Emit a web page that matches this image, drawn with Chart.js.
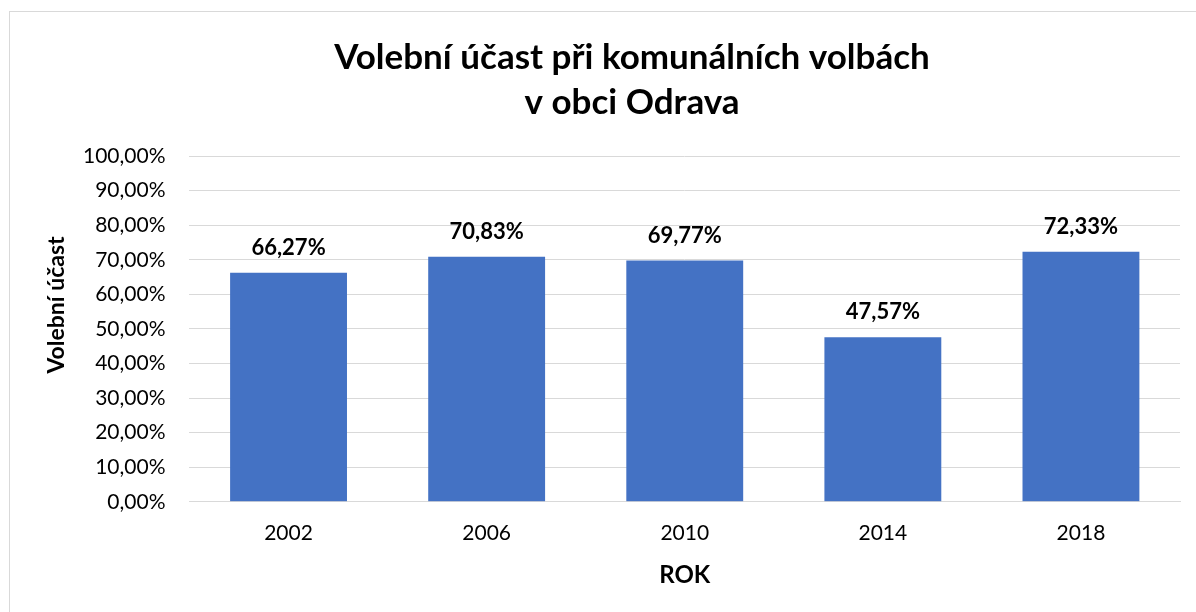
<!DOCTYPE html>
<html><head><meta charset="utf-8">
<script src="https://cdn.jsdelivr.net/npm/chart.js@4/dist/chart.umd.min.js"></script>
<style>
html,body{margin:0;padding:0;background:#fff;overflow:hidden;width:1196px;height:612px;}
#frame{position:absolute;left:9px;top:11px;width:1200px;height:620px;border:1px solid #d9d9d9;box-sizing:border-box;}
#wrap{position:absolute;left:0;top:0;width:1196px;height:612px;}
</style></head><body>
<div id="frame"></div>
<div id="wrap"><canvas id="c" width="1196" height="612"></canvas></div>
<script>
const categories = ['2002','2006','2010','2014','2018'];
const turnout = [66.27, 70.83, 69.77, 47.57, 72.33];
const yTicks = [0,10,20,30,40,50,60,70,80,90,100];
const titleLines = ['Volební účast při komunálních volbách','v obci Odrava'];
const yTitle = 'Volební účast';
const xTitle = 'ROK';

const FONT = 'Lato, "Open Sans", sans-serif';
const fmt = v => v.toFixed(2).replace('.', ',') + '%';

const labelPlugin = {
  id: 'barLabels',
  afterDatasetsDraw(chart) {
    const ctx = chart.ctx;
    const meta = chart.getDatasetMeta(0);
    ctx.save();
    ctx.font = 'bold 22px ' + FONT;
    ctx.fillStyle = '#000';
    ctx.textAlign = 'center';
    ctx.textBaseline = 'middle';
    meta.data.forEach((bar, i) => {
      ctx.fillText(fmt(turnout[i]), bar.x, bar.y - 25);
    });
    ctx.restore();
  }
};

const titlePlugin = {
  id: 'titles',
  afterDraw(chart) {
    const ctx = chart.ctx;
    const a = chart.chartArea;
    ctx.save();
    ctx.fillStyle = '#000';
    ctx.textAlign = 'center';
    ctx.textBaseline = 'middle';
    ctx.font = 'bold 35px ' + FONT;
    ctx.fillText(titleLines[0], 632, 58);
    ctx.fillText(titleLines[1], 632, 103);
    ctx.font = 'bold 24px ' + FONT;
    ctx.fillText(xTitle, (a.left + a.right) / 2, 575);
    ctx.translate(57, 305);
    ctx.rotate(-Math.PI / 2);
    ctx.font = 'bold 23px ' + FONT;
    ctx.fillText(yTitle, 0, 0);
    ctx.restore();
  }
};

new Chart(document.getElementById('c'), {
  type: 'bar',
  data: {
    labels: categories,
    datasets: [{
      data: turnout,
      backgroundColor: '#4472C4',
      borderWidth: 0,
      barPercentage: 0.59,
      categoryPercentage: 1.0
    }]
  },
  options: {
    responsive: false,
    animation: false,
    devicePixelRatio: 1,
    layout: { padding: { left: 59, right: 16, top: 156, bottom: 47 } },
    plugins: {
      legend: { display: false },
      tooltip: { enabled: false },
      title: { display: false }
    },
    scales: {
      x: {
        grid: { display: false, drawTicks: false },
        border: { color: '#d9d9d9', width: 1 },
        ticks: { color: '#000', font: { family: FONT, size: 21 }, padding: 19 }
      },
      y: {
        min: 0, max: 100,
        afterBuildTicks: s => { s.ticks = yTicks.map(v => ({ value: v })); },
        grid: { color: '#d9d9d9', drawTicks: false, lineWidth: 1 },
        border: { display: false },
        ticks: { color: '#000', font: { family: FONT, size: 21 }, padding: 24, callback: v => v.toFixed(2).replace('.', ',') + '%' }
      }
    }
  },
  plugins: [labelPlugin, titlePlugin]
});
</script>
</body></html>
